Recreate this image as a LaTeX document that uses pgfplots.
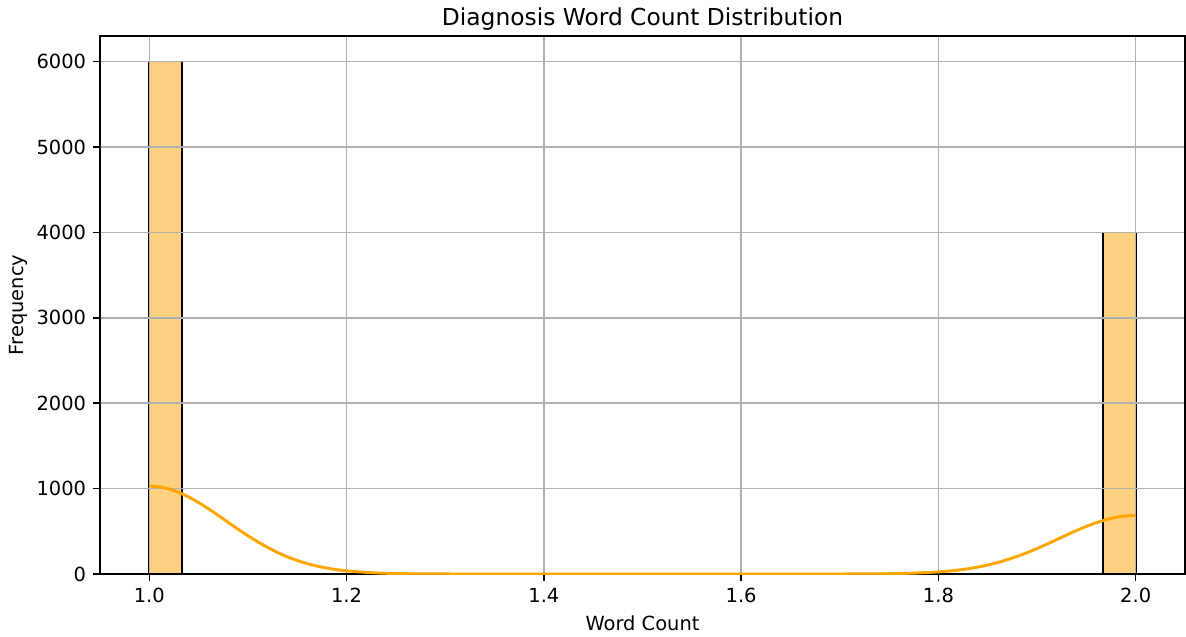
\documentclass[border=0pt]{standalone}
\usepackage{fontspec}
\setmainfont{DejaVu Sans}
\usepackage{pgfplots}
\pgfplotsset{compat=1.18}
\definecolor{barfill}{RGB}{255,208,128}
\definecolor{kde}{RGB}{255,165,0}
\definecolor{gridc}{RGB}{176,176,176}
\begin{document}
\begin{tikzpicture}
\begin{axis}[
  set layers,
  scale only axis, width=781.2pt, height=387.36pt,
  at={(0,0)}, anchor=south west,
  xmin=0.95, xmax=2.05, ymin=0, ymax=6300,
  xtick={1,1.2,1.4,1.6,1.8,2},
  ytick={0,1000,2000,3000,4000,5000,6000},
  grid=major,
  major grid style={gridc, line width=1.1pt},
  axis line style={line width=1.1pt},
  tick style={black, line width=1.1pt},
  major tick length=4.9pt,
  tick align=outside,
  tick pos=left,
  scaled y ticks=false,
  /pgf/number format/assume math mode=true,
  yticklabel style={/pgf/number format/1000 sep={}, font=\fontsize{14}{16}\selectfont, inner sep=0pt, xshift=-4.9pt},
  xticklabel style={/pgf/number format/fixed, /pgf/number format/fixed zerofill, /pgf/number format/precision=1, font=\fontsize{14}{16}\selectfont, inner sep=0pt, yshift=-4.9pt},
  title={Diagnosis Word Count Distribution},
  xlabel={Word Count},
  ylabel={Frequency},
  every axis title/.style={at={(axis description cs:0.5,1.0204)}, anchor=base, font=\fontsize{16.8}{19}\selectfont},
  every axis x label/.style={at={(axis description cs:0.5,-0.1058)}, anchor=base, font=\fontsize{14}{16}\selectfont},
  every axis y label/.style={at={(axis description cs:-0.0709,0.5)}, rotate=90, anchor=base, font=\fontsize{14}{16}\selectfont},
]
\addplot[ybar interval, fill=barfill, draw=black, line width=1.2pt, on layer=axis background]
  coordinates {(1.0,6000) (1.033333,0) (1.966667,4000) (2.0,0)};
\addplot[kde, line width=2.1pt, smooth] coordinates {
  (1.000,1029.5) (1.0125,1016.5) (1.025,977.3) (1.0375,915.5) (1.050,836.1) (1.0625,744.4) (1.075,644.6)
  (1.0875,544.2) (1.100,447.8) (1.1125,359.6) (1.125,280.3) (1.1375,213.3) (1.150,158.2) (1.1625,114.1)
  (1.175,80.4) (1.1875,54.9) (1.200,36.8) (1.225,15.2) (1.250,5.7) (1.275,1.9) (1.300,0.6)
  (1.350,0.04) (1.400,0) (1.500,0) (1.600,0) (1.650,0.03) (1.700,0.38) (1.725,1.27) (1.750,3.8)
  (1.775,10.1) (1.800,24.6) (1.8125,36.6) (1.825,53.6) (1.8375,76.1) (1.850,105.5) (1.8625,142.2)
  (1.875,186.9) (1.8875,239.7) (1.900,298.5) (1.9125,362.9) (1.925,429.7) (1.9375,496.3) (1.950,557.4)
  (1.9625,610.3) (1.975,651.5) (1.9875,677.6) (2.000,686.3)
};
\end{axis}
\pgfresetboundingbox
\path[use as bounding box] (-72pt,-44.64pt) rectangle (781.92pt,413.28pt);
\end{tikzpicture}
\end{document}
